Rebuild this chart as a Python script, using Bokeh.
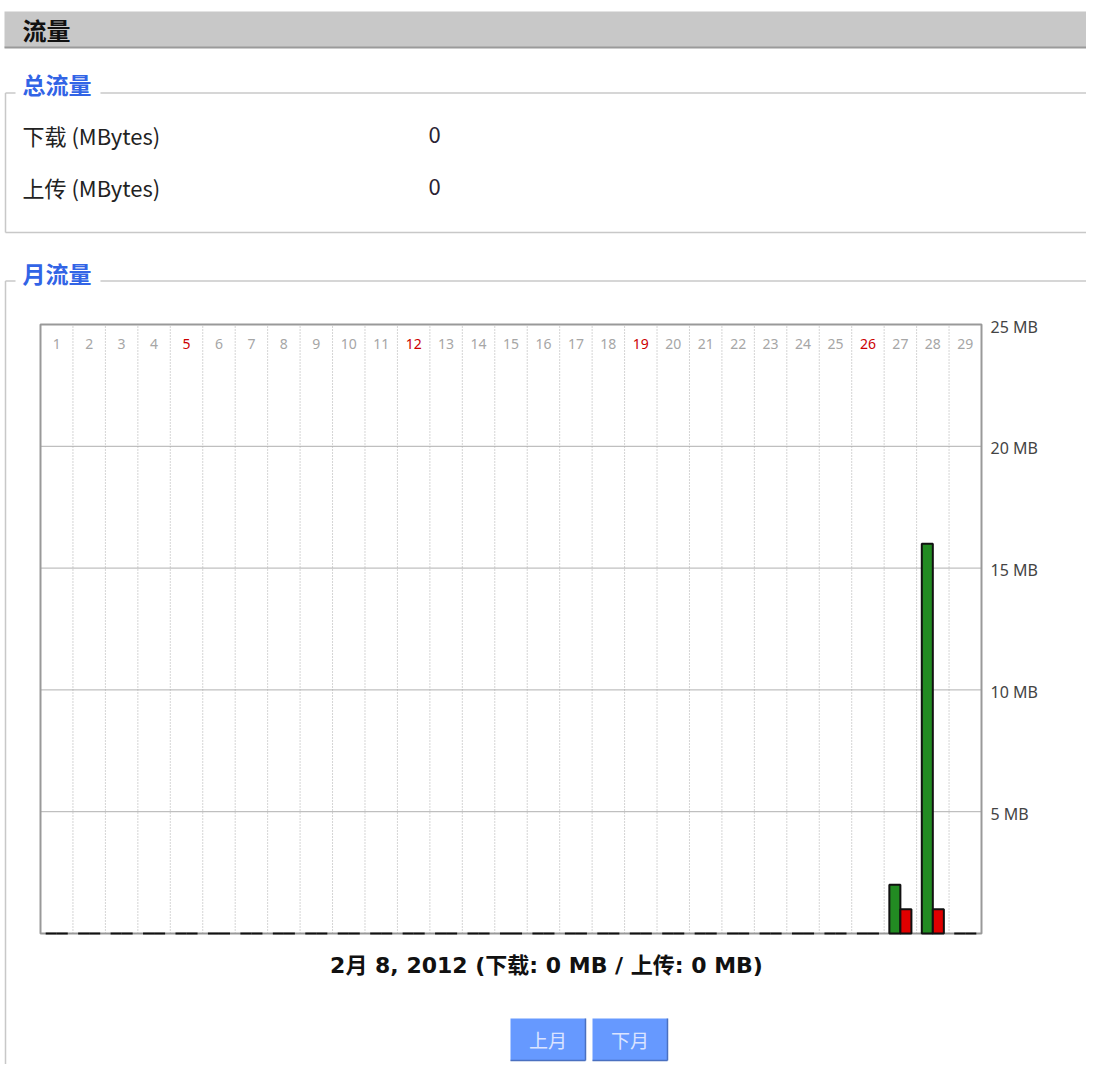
from bokeh.plotting import figure
from bokeh.models import Range1d, ColumnDataSource
from bokeh.transform import dodge
from bokeh.core.properties import value
from bokeh.embed import file_html
from bokeh.resources import INLINE

# ---------------- data ----------------
days = [1, 2, 3, 4, 5, 6, 7, 8, 9, 10, 11, 12, 13, 14, 15, 16, 17, 18, 19, 20,
        21, 22, 23, 24, 25, 26, 27, 28, 29]
download_mb = [0, 0, 0, 0, 0, 0, 0, 0, 0, 0, 0, 0, 0, 0, 0, 0, 0, 0, 0, 0,
               0, 0, 0, 0, 0, 0, 2.0, 16.0, 0]
upload_mb = [0, 0, 0, 0, 0, 0, 0, 0, 0, 0, 0, 0, 0, 0, 0, 0, 0, 0, 0, 0,
             0, 0, 0, 0, 0, 0, 1.0, 1.0, 0]
day_labels = [str(d) for d in days]
sunday_days = [5, 12, 19, 26]
y_ticks = [5, 10, 15, 20, 25]
y_tick_labels = ["5 MB", "10 MB", "15 MB", "20 MB", "25 MB"]

page_title = "流量"
total_legend = "总流量"
total_rows = ["下载 (MBytes)", "上传 (MBytes)"]
total_values = ["0", "0"]
month_legend = "月流量"
status_text = "2月 8, 2012 (下载: 0 MB / 上传: 0 MB)"
button_labels = ["上月", "下月"]

# ---------------- page geometry (pixels of the page) ----------------
CJK = "Noto Sans CJK SC"
LAT = "Noto Sans"
FS = "#c8c8c8"          # fieldset border colour
BLUE = "#3264e6"
X0, X1, Y0, Y1 = 0, 1086, 0, 1064            # visible page area
CH_L, CH_R, CH_T, CH_B = 40, 981, 324, 933    # chart frame on the page

p = figure(width=X1 - X0, height=Y1 - Y0, x_range=Range1d(X0, X1), y_range=Range1d(Y1, Y0),
           x_axis_location=None, y_axis_location=None, toolbar_location=None,
           output_backend="svg", min_border=0, outline_line_color=None,
           background_fill_color="white", border_fill_color="white")
p.grid.visible = False

# chart scales: days along x, MB along y, placed on the chart frame
day_lo, day_hi = days[0] - 0.5, days[-1] + 0.5
mb_lo, mb_hi = 0, y_ticks[-1]
ppd = (CH_R - CH_L) / (day_hi - day_lo)
ppm = (CH_B - CH_T) / (mb_hi - mb_lo)
p.extra_x_ranges = {"day": Range1d(day_lo - (CH_L - X0) / ppd, day_hi + (X1 - CH_R) / ppd)}
p.extra_y_ranges = {"mb": Range1d(mb_lo - (Y1 - CH_B) / ppm, mb_hi + (CH_T - Y0) / ppm)}
C = dict(x_range_name="day", y_range_name="mb")

# ---------------- header + total traffic ----------------
p.quad(left=[4], right=[1102], top=[11], bottom=[47], fill_color="#c8c8c8", line_color=None)
p.segment(x0=[4], y0=[47], x1=[1102], y1=[47], line_color="#9a9a9a", line_width=2)
p.text(x=[22], y=[29], text=[page_title], text_font=value(CJK), text_font_size="24px",
       text_font_style="bold", text_baseline="middle", text_color="#111111")

# fieldset 1
p.segment(x0=[5, 100], y0=[92.5, 92.5], x1=[15, 1102], y1=[92.5, 92.5], line_color=FS, line_width=1.5)
p.segment(x0=[5, 5], y0=[92.5, 232], x1=[5, 1102], y1=[232, 232], line_color=FS, line_width=1.5)
p.text(x=[22], y=[83], text=[total_legend], text_font=value(CJK), text_font_size="23px",
       text_font_style="bold", text_baseline="middle", text_color=BLUE)
p.text(x=[22, 22], y=[134, 186], text=total_rows, text_font=value(CJK), text_font_size="22px",
       text_baseline="middle", text_color="#222222")
p.text(x=[434, 434], y=[134, 186], text=total_values, text_font=value(CJK), text_font_size="22px",
       text_baseline="middle", text_align="center", text_color="#2a2233")

# fieldset 2
p.segment(x0=[5, 100], y0=[280.5, 280.5], x1=[15, 1102], y1=[280.5, 280.5], line_color=FS, line_width=1.5)
p.segment(x0=[5], y0=[280.5], x1=[5], y1=[1077], line_color=FS, line_width=1.5)
p.text(x=[22], y=[272], text=[month_legend], text_font=value(CJK), text_font_size="23px",
       text_font_style="bold", text_baseline="middle", text_color=BLUE)

# ---------------- monthly chart ----------------
# horizontal grid lines at the MB ticks
p.segment(x0=[day_lo] * len(y_ticks), x1=[day_hi] * len(y_ticks), y0=y_ticks, y1=y_ticks,
          line_color="#b0b0b0", line_width=1, **C)
# dotted day separators
seps = [d + 0.5 for d in days[:-1]]
p.segment(x0=seps, x1=seps, y0=[mb_lo] * len(seps), y1=[mb_hi] * len(seps),
          line_color="#aaaaaa", line_width=1, line_dash="1 2", **C)

# frame (under the bars, so zero-value bars show as black strokes on it)
p.quad(left=[day_lo], right=[day_hi], bottom=[mb_lo], top=[mb_hi], fill_color=None,
       line_color="#999999", line_width=2, **C)

src = ColumnDataSource(dict(day=days, down=download_mb, up=upload_mb))
p.vbar(x=dodge("day", -0.17), top="down", bottom=0, width=0.34, source=src,
       fill_color="#228b22", line_color="#111111", line_width=2, **C)
p.vbar(x=dodge("day", 0.17), top="up", bottom=0, width=0.34, source=src,
       fill_color="#e00000", line_color="#111111", line_width=2, **C)

# day labels along the top, inside the frame
label_colors = ["#cc0000" if d in sunday_days else "#a6a6a6" for d in days]
lab_src = ColumnDataSource(dict(day=days, label=day_labels, color=label_colors,
                                top=[mb_hi] * len(days)))
p.text(x="day", y="top", text="label", text_color="color", source=lab_src,
       text_font=value(LAT), text_font_size="14px", text_align="center",
       text_baseline="middle", y_offset=19, **C)

# MB tick labels on the right
p.text(x=[day_hi] * len(y_ticks), y=y_ticks, text=y_tick_labels, text_font=value(LAT),
       text_font_size="16px", text_baseline="middle", text_color="#444444", x_offset=9,
       y_offset=2, **C)

# ---------------- status + buttons ----------------
p.text(x=[546], y=[965], text=[status_text],
       text_font=value("'DejaVu Sans', 'Noto Sans CJK SC'"), text_font_size="22px",
       text_font_style="bold", text_baseline="middle", text_align="center", text_color="#111111")
p.quad(left=[510, 592], right=[585, 667], top=[1018, 1018], bottom=[1060, 1060],
       fill_color="#6699ff", line_color=None)
p.segment(x0=[585, 667], y0=[1018, 1018], x1=[585, 667], y1=[1060, 1060],
          line_color="#4a70c0", line_width=1.5)
p.segment(x0=[510, 592], y0=[1060, 1060], x1=[585, 667], y1=[1060, 1060],
          line_color="#4a70c0", line_width=1.5)
p.text(x=[547.5, 629.5], y=[1039, 1039], text=button_labels, text_font=value(CJK),
       text_font_size="19px", text_baseline="middle", text_align="center", text_color="#dbe4ff")

open("out.html", "w").write(file_html(p, INLINE))
